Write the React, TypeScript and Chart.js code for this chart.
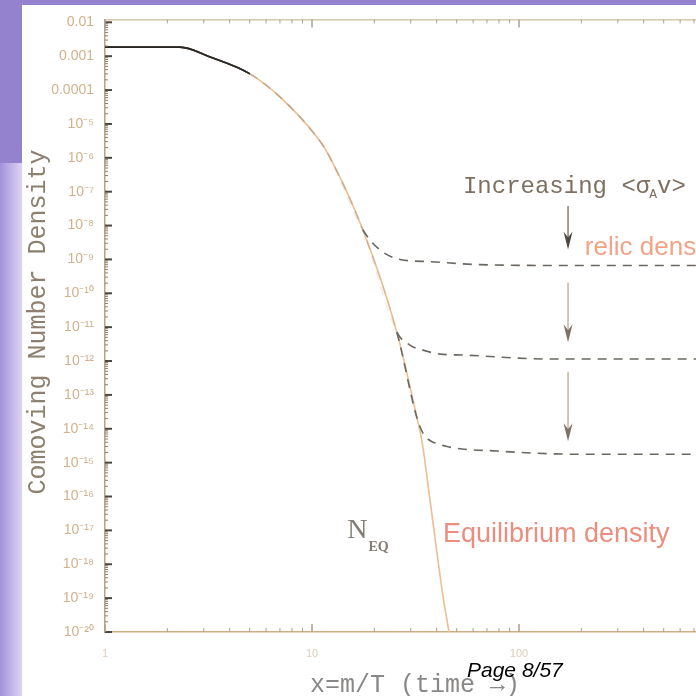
import React, { useEffect, useRef } from "react";
import { Chart, registerables } from "chart.js";

Chart.register(...registerables);

// ---- Data ----
// Equilibrium number density (solid curve)
const eqX = [1, 1.5, 2, 2.3, 3.22, 5.01, 7.0, 10.6, 11.8, 17.6, 25.7, 32.2, 34.0, 37.2, 43.0, 45.9];
const eqY = [1.85e-3, 1.85e-3, 1.85e-3, 1.85e-3, 9.4e-4, 3.0e-4, 6.3e-5, 4.0e-6, 1.5e-6, 7.5e-9, 7.1e-12, 2.0e-14, 4.2e-15, 7.4e-17, 1.06e-19, 1.0e-20];

// Freeze-out (dashed) curves: leave equilibrium at *From, then follow these points
const relic1From = 17.6;
const relic1X = [21.3, 26.6, 37.2, 64.8, 200, 1000];
const relic1Y = [1.9e-9, 1.0e-9, 8.6e-10, 7.0e-10, 6.6e-10, 6.6e-10];

const relic2From = 25.7;
const relic2X = [29.7, 34.4, 41.5, 53.6, 136, 1000];
const relic2Y = [2.96e-12, 2.1e-12, 1.6e-12, 1.5e-12, 1.15e-12, 1.15e-12];

const relic3From = 32.2;
const relic3X = [34.5, 35.9, 44.9, 78.3, 197, 1000];
const relic3Y = [7.0e-15, 5.2e-15, 3.0e-15, 2.2e-15, 1.77e-15, 1.77e-15];

// Axis ticks
const xTickValues = [1, 10, 100];
const xTickLabels = ["1", "10", "100"];
const yTickValues = [1e-20, 1e-19, 1e-18, 1e-17, 1e-16, 1e-15, 1e-14, 1e-13, 1e-12, 1e-11, 1e-10, 1e-9, 1e-8, 1e-7, 1e-6, 1e-5, 1e-4, 1e-3, 1e-2];
const yTickLabels = ["10⁻²⁰", "10⁻¹⁹", "10⁻¹⁸", "10⁻¹⁷", "10⁻¹⁶", "10⁻¹⁵", "10⁻¹⁴", "10⁻¹³", "10⁻¹²", "10⁻¹¹", "10⁻¹⁰", "10⁻⁹", "10⁻⁸", "10⁻⁷", "10⁻⁶", "10⁻⁵", "0.0001", "0.001", "0.01"];

// Annotation anchors (data coordinates)
const arrowX = 172.5;
const arrowSpans = [
  [3.8e-8, 1.95e-9],
  [2.1e-10, 3.6e-12],
  [4.8e-13, 4.3e-15],
];

const X_MIN = 1;
const X_MAX = 716;
const Y_MIN = 1e-20;
const Y_MAX = 0.0122;

const pts = (xs: number[], ys: number[]) => xs.map((x, i) => ({ x, y: ys[i] }));
const eqData = pts(eqX, eqY);
const relicData = (from: number, xs: number[], ys: number[]) => [
  ...eqData.filter((p) => p.x <= from),
  ...pts(xs, ys),
];

const MONO = '"Liberation Mono", "DejaVu Sans Mono", monospace';
const SANS = '"Liberation Sans", Arial, sans-serif';
const SERIF = '"Liberation Serif", "DejaVu Serif", serif';

function relicDataset(label: string, from: number, xs: number[], ys: number[]) {
  return {
    label,
    data: relicData(from, xs, ys),
    showLine: true,
    borderColor: "#6c6761",
    borderWidth: 1.6,
    borderDash: [9, 7],
    pointRadius: 0,
    cubicInterpolationMode: "monotone" as const,
    order: 1,
    segment: {
      borderDash: (c: any) => (c.p0.parsed.x < 4 ? [] : undefined),
      borderColor: (c: any) => {
        const x = c.p0.parsed.x;
        if (x < 4) return "rgba(35,35,35,0.7)";
        if (x < from * 0.75) return "rgba(120,110,100,0.12)";
        return undefined;
      },
    },
  };
}

const backgroundPlugin = {
  id: "slideBackground",
  beforeDraw(chart: any) {
    const { ctx, width, height } = chart;
    ctx.save();
    ctx.fillStyle = "#ffffff";
    ctx.fillRect(0, 0, width, height);
    ctx.fillStyle = "#9482cf";
    ctx.fillRect(0, 0, width, 5);
    ctx.fillRect(0, 0, 22, 163);
    const g = ctx.createLinearGradient(0, 0, 22, 0);
    g.addColorStop(0, "#a291da");
    g.addColorStop(1, "#ddd5f3");
    ctx.fillStyle = g;
    ctx.fillRect(0, 163, 22, height - 163);
    ctx.restore();
  },
};

const decorPlugin = {
  id: "decor",
  afterDatasetsDraw(chart: any) {
    const { ctx, chartArea, scales } = chart;
    const xs = scales.x;
    const ys = scales.y;
    const { left, right, top, bottom } = chartArea;
    ctx.save();

    // top frame line
    ctx.strokeStyle = "#d2bb9c";
    ctx.lineWidth = 1.2;
    ctx.beginPath();
    ctx.moveTo(left, top + 0.5);
    ctx.lineTo(right, top + 0.5);
    ctx.stroke();

    // y ticks (inside)
    for (let e = -20; e <= -2; e++) {
      const base = Math.pow(10, e);
      const py = ys.getPixelForValue(base);
      ctx.strokeStyle = "#4d4640";
      ctx.lineWidth = 2;
      ctx.beginPath();
      ctx.moveTo(left, py);
      ctx.lineTo(left + 7, py);
      ctx.stroke();
      if (e < -2) {
        ctx.strokeStyle = "#8a7f74";
        ctx.lineWidth = 1;
        for (let m = 2; m <= 9; m++) {
          const p = ys.getPixelForValue(base * m);
          ctx.beginPath();
          ctx.moveTo(left, p);
          ctx.lineTo(left + 3, p);
          ctx.stroke();
        }
      }
    }

    // x ticks (bottom pointing up, top pointing down)
    for (let e = 0; e <= 2; e++) {
      const base = Math.pow(10, e);
      for (let m = 1; m <= 9; m++) {
        const v = base * m;
        if (v > X_MAX) continue;
        const px = xs.getPixelForValue(v);
        const len = m === 1 ? 8 : 4;
        ctx.strokeStyle = "#b49c80";
        ctx.lineWidth = m === 1 ? 1.5 : 1;
        ctx.beginPath();
        ctx.moveTo(px, bottom);
        ctx.lineTo(px, bottom - len);
        ctx.stroke();
        ctx.strokeStyle = "#a8a29a";
        ctx.beginPath();
        ctx.moveTo(px, top);
        ctx.lineTo(px, top + len);
        ctx.stroke();
      }
    }

    // arrows
    arrowSpans.forEach((span, i) => {
      const ax = xs.getPixelForValue(arrowX);
      const y0 = ys.getPixelForValue(span[0]);
      const y1 = ys.getPixelForValue(span[1]);
      ctx.strokeStyle = i === 0 ? "#8a7c6e" : "#c4b4a4";
      ctx.lineWidth = 1.5;
      ctx.beginPath();
      ctx.moveTo(ax, y0);
      ctx.lineTo(ax, y1 - 8);
      ctx.stroke();
      ctx.fillStyle = i === 0 ? "#4f4740" : "#7d7065";
      ctx.beginPath();
      ctx.moveTo(ax, y1);
      ctx.lineTo(ax - 4.5, y1 - 18);
      ctx.lineTo(ax, y1 - 12);
      ctx.lineTo(ax + 4.5, y1 - 18);
      ctx.closePath();
      ctx.fill();
    });

    // "Increasing <σ_A v>"
    {
      let x = xs.getPixelForValue(53.6);
      const y = ys.getPixelForValue(9.1e-8);
      ctx.fillStyle = "#7e6f61";
      ctx.textBaseline = "alphabetic";
      ctx.textAlign = "left";
      ctx.font = `24px ${MONO}`;
      const p1 = "Increasing <σ";
      ctx.fillText(p1, x, y);
      x += ctx.measureText(p1).width;
      ctx.font = `13px ${MONO}`;
      ctx.fillText("A", x - 1, y + 5);
      x += ctx.measureText("A").width - 1;
      ctx.font = `24px ${MONO}`;
      ctx.fillText("v>", x, y);
    }

    // relic density
    ctx.font = `26px ${SANS}`;
    ctx.fillStyle = "#f2a487";
    ctx.fillText("relic density", xs.getPixelForValue(208), ys.getPixelForValue(1.38e-9));

    // Equilibrium density
    ctx.font = `27px ${SANS}`;
    ctx.fillStyle = "#ec8e7f";
    ctx.fillText("Equilibrium density", xs.getPixelForValue(42.9), ys.getPixelForValue(4.4e-18));

    // N_EQ
    {
      const nx = xs.getPixelForValue(14.8);
      const ny = ys.getPixelForValue(6e-18);
      ctx.fillStyle = "#837d73";
      ctx.font = `28px ${SERIF}`;
      ctx.fillText("N", nx, ny);
      const w = ctx.measureText("N").width;
      ctx.font = `bold 14px ${SERIF}`;
      ctx.fillText("EQ", nx + w + 1, ny + 13);
    }

    ctx.restore();
  },
  afterDraw(chart: any) {
    const { ctx } = chart;
    ctx.save();
    // x axis title
    ctx.font = `25px ${MONO}`;
    ctx.fillStyle = "#8a8886";
    ctx.textAlign = "left";
    ctx.textBaseline = "alphabetic";
    ctx.fillText("x=m/T (time →)", 310, 692);

    // y axis title
    ctx.save();
    ctx.translate(45, 322);
    ctx.rotate(-Math.PI / 2);
    ctx.font = `25px ${MONO}`;
    ctx.fillStyle = "#8d8070";
    ctx.textAlign = "center";
    ctx.fillText("Comoving Number Density", 0, 0);
    ctx.restore();

    // page number
    ctx.font = `italic 21px ${SANS}`;
    ctx.fillStyle = "#000000";
    ctx.textAlign = "left";
    ctx.fillText("Page 8/57", 467, 677);
    ctx.restore();
  },
};

export default function App() {
  const ref = useRef<HTMLCanvasElement | null>(null);

  useEffect(() => {
    if (!ref.current) return;
    const chart = new Chart(ref.current, {
      type: "scatter",
      data: {
        datasets: [
          relicDataset("Relic 1", relic1From, relic1X, relic1Y),
          relicDataset("Relic 2", relic2From, relic2X, relic2Y),
          relicDataset("Relic 3", relic3From, relic3X, relic3Y),
          {
            label: "Equilibrium",
            data: eqData,
            showLine: true,
            borderColor: "#eebd91",
            borderWidth: 1.6,
            pointRadius: 0,
            cubicInterpolationMode: "monotone",
            order: 10,
          } as any,
        ],
      },
      options: {
        responsive: false,
        animation: false,
        devicePixelRatio: 1,
        layout: { padding: { top: 15, left: 0, right: 0, bottom: 0 } },
        plugins: { legend: { display: false }, tooltip: { enabled: false } },
        scales: {
          x: {
            type: "logarithmic",
            position: "bottom",
            min: X_MIN,
            max: X_MAX,
            grid: { display: false, drawTicks: false },
            border: { display: true, color: "#cfae86", width: 1.5 },
            ticks: {
              color: "#dfcdb8",
              font: { size: 11, family: SANS },
              padding: 15,
              autoSkip: false,
              maxRotation: 0,
              callback: (v: any) => {
                const i = xTickValues.indexOf(Number(v));
                return i >= 0 ? xTickLabels[i] : "";
              },
            },
            afterBuildTicks: (s: any) => {
              s.ticks = xTickValues.map((v) => ({ value: v }));
            },
            afterFit: (s: any) => {
              s.height = 64;
            },
          },
          y: {
            type: "logarithmic",
            position: "left",
            min: Y_MIN,
            max: Y_MAX,
            grid: { display: false, drawTicks: false },
            border: { display: true, color: "#bfa07c", width: 1.5 },
            ticks: {
              color: "#d2b18d",
              font: { size: 14, family: SANS },
              padding: 11,
              autoSkip: false,
              callback: (v: any) => {
                const i = yTickValues.findIndex((t) => Math.abs(Math.log10(t) - Math.log10(Number(v))) < 1e-6);
                return i >= 0 ? yTickLabels[i] : "";
              },
            },
            afterBuildTicks: (s: any) => {
              s.ticks = yTickValues.map((v) => ({ value: v }));
            },
            afterFit: (s: any) => {
              s.width = 105;
            },
          },
        },
      },
      plugins: [backgroundPlugin, decorPlugin],
    } as any);
    return () => chart.destroy();
  }, []);

  return (
    <div style={{ position: "fixed", left: 0, top: 0, width: 696, height: 696, background: "#fff" }}>
      <canvas ref={ref} width={696} height={696} style={{ display: "block", width: 696, height: 696 }} />
    </div>
  );
}
